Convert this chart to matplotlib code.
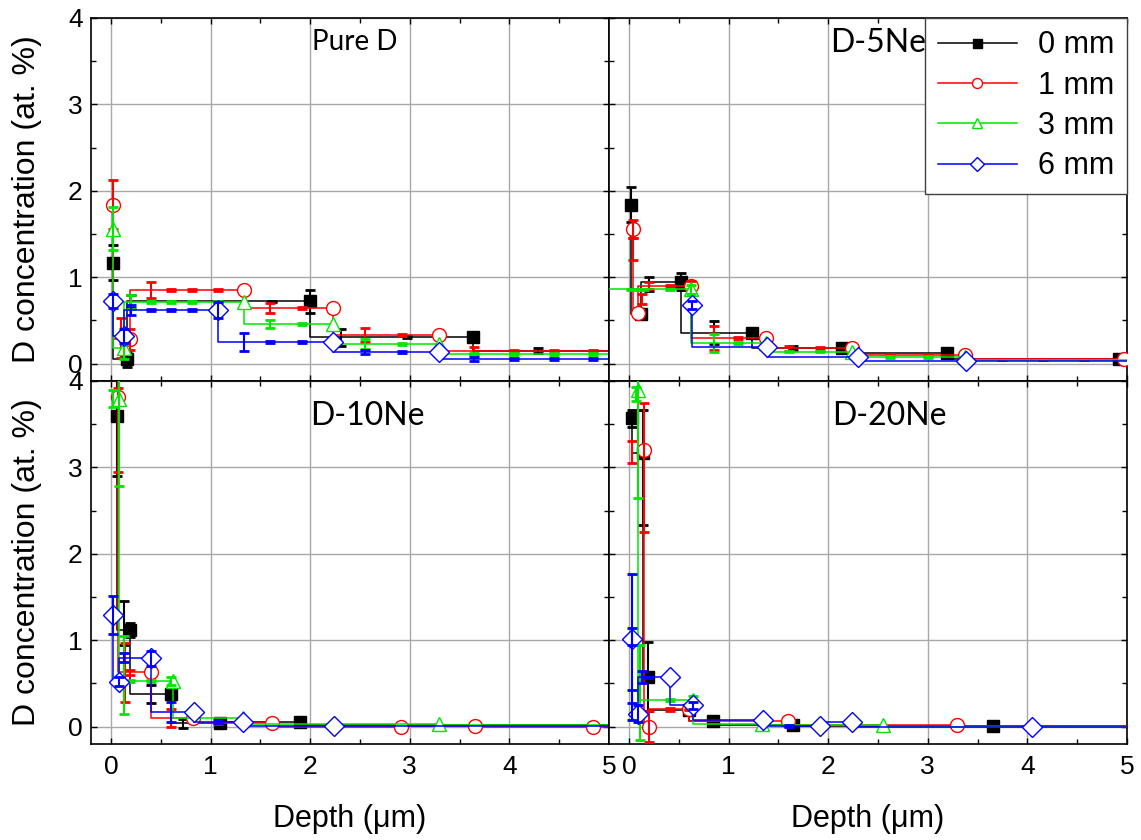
import numpy as np
import matplotlib
matplotlib.use('Agg')
import matplotlib.pyplot as plt
from matplotlib.ticker import MultipleLocator

plt.rcParams['font.family'] = ['Liberation Sans', 'DejaVu Sans']

# series order: 0 mm, 1 mm, 3 mm, 6 mm
labels = ['0 mm', '1 mm', '3 mm', '6 mm']
colors = ['#000000', '#ff0000', '#00e600', '#0000ff']
markers = ['s', 'o', '^', 'D']
titles = ['Pure D', 'D-5Ne', 'D-10Ne', 'D-20Ne']

# ---- Pure D ----
pure_x = [[0.02, 0.16, 2.0, 3.63, 5.3],
          [0.02, 0.19, 1.34, 2.23, 3.29, 5.3],
          [0.02, 0.13, 1.34, 2.23, 3.29, 5.3],
          [0.02, 0.13, 1.07, 2.23, 3.29, 5.3]]
pure_y = [[1.17, 0.05, 0.72, 0.305, 0.15],
          [1.84, 0.28, 0.85, 0.645, 0.33, 0.15],
          [1.56, 0.18, 0.71, 0.46, 0.23, 0.11],
          [0.73, 0.32, 0.62, 0.25, 0.135, 0.055]]
pure_ex = [[0.02, 0.16, 0.2, 1.62, 2.0, 2.31, 2.97, 4.29],
           [0.02, 0.1, 0.19, 0.4, 0.6, 0.81, 1.07, 1.6, 1.92, 2.55, 2.92, 3.64, 4.05, 4.45, 4.84],
           [0.02, 0.13, 0.2, 0.4, 0.6, 0.81, 1.07, 1.6, 1.92, 2.55, 2.92, 3.64, 4.05, 4.45, 4.84],
           [0.02, 0.13, 0.2, 0.4, 0.6, 0.81, 1.07, 1.34, 1.6, 1.92, 2.55, 2.92, 3.64, 4.05, 4.45, 4.84]]
pure_ey = [[1.17, 0.05, 0.72, 0.72, 0.72, 0.305, 0.305, 0.15],
           [1.84, 0.3, 0.28, 0.85, 0.85, 0.85, 0.85, 0.645, 0.645, 0.33, 0.33, 0.15, 0.15, 0.15, 0.15],
           [1.56, 0.18, 0.71, 0.71, 0.71, 0.71, 0.71, 0.46, 0.46, 0.23, 0.23, 0.11, 0.11, 0.11, 0.11],
           [0.73, 0.32, 0.62, 0.62, 0.62, 0.62, 0.62, 0.25, 0.25, 0.25, 0.135, 0.135, 0.055, 0.055, 0.055, 0.055]]
pure_err = [[0.2, 0.09, 0.08, 0.01, 0.13, 0.1, 0.01, 0.03],
            [0.28, 0.23, 0.12, 0.09, 0.01, 0.01, 0.01, 0.06, 0.01, 0.08, 0.01, 0.04, 0.01, 0.01, 0.01],
            [0.25, 0.12, 0.08, 0.01, 0.01, 0.01, 0.01, 0.05, 0.01, 0.06, 0.01, 0.01, 0.01, 0.01, 0.01],
            [0.08, 0.08, 0.06, 0.01, 0.01, 0.01, 0.09, 0.1, 0.01, 0.01, 0.02, 0.01, 0.02, 0.01, 0.01, 0.01]]

# ---- D-5Ne ----
ne5_x = [[0.02, 0.12, 0.52, 1.24, 2.14, 3.19, 4.92],
         [0.04, 0.095, 0.62, 1.38, 2.24, 3.37, 4.97],
         [-0.3, 0.62, 1.38, 2.24, 3.37, 5.3],
         [0.63, 1.39, 2.3, 3.38, 5.3]]
ne5_y = [[1.84, 0.57, 0.95, 0.36, 0.18, 0.12, 0.05],
         [1.56, 0.59, 0.9, 0.3, 0.18, 0.1, 0.05],
         [0.86, 0.86, 0.24, 0.14, 0.08, 0.04],
         [0.68, 0.19, 0.08, 0.035, 0.03]]
ne5_ex = [[0.02, 0.2, 0.52, 0.85, 1.65, 2.14],
          [0.04, 0.04, 0.13, 0.2, 0.41, 0.62, 0.85, 1.1, 1.61, 1.92, 2.62, 3.0, 3.75, 4.16, 4.57],
          [0.02, 0.08, 0.15, 0.41, 0.62, 0.85, 1.1, 1.61, 1.92, 2.62, 3.0],
          [0.63]]
ne5_ey = [[1.84, 0.92, 0.95, 0.36, 0.18, 0.18],
          [1.56, 1.33, 0.75, 0.9, 0.9, 0.9, 0.3, 0.3, 0.18, 0.18, 0.1, 0.1, 0.05, 0.05, 0.05],
          [0.86, 0.86, 0.86, 0.86, 0.86, 0.24, 0.24, 0.14, 0.14, 0.08, 0.08],
          [0.68]]
ne5_err = [[0.2, 0.08, 0.1, 0.13, 0.02, 0.02],
           [0.1, 0.13, 0.06, 0.04, 0.01, 0.06, 0.14, 0.01, 0.03, 0.01, 0.01, 0.01, 0.01, 0.01, 0.01],
           [0.01, 0.01, 0.01, 0.01, 0.05, 0.1, 0.01, 0.01, 0.01, 0.01, 0.01],
           [0.05]]

# ---- D-10Ne ----
ne10_x = [[0.065, 0.19, 0.6, 1.09, 1.9, 5.3],
          [0.075, 0.4, 0.82, 1.62, 2.91, 3.65, 4.84, 5.3],
          [0.085, 0.62, 1.33, 3.29, 5.3],
          [0.025, 0.08, 0.4, 0.83, 1.33, 2.24, 5.3]]
ne10_y = [[3.59, 1.12, 0.38, 0.04, 0.06, 0.02],
          [3.82, 0.63, 0.1, 0.04, 0.0, 0.01, 0.0, 0.0],
          [3.79, 0.53, 0.1, 0.03, 0.02],
          [1.29, 0.52, 0.79, 0.17, 0.06, 0.01, 0.01]]
ne10_ex = [[0.065, 0.135, 0.19, 0.4, 0.72],
           [0.075, 0.075, 0.14, 0.19, 0.6, 1.07],
           [0.085, 0.02, 0.13, 0.19, 0.4, 0.6],
           [0.025, 0.08, 0.13, 0.4, 0.6, 1.07]]
ne10_ey = [[3.59, 1.2, 1.12, 0.38, 0.04],
           [3.82, 3.82, 0.63, 0.63, 0.1, 0.04],
           [3.79, 3.8, 0.6, 0.53, 0.53, 0.53],
           [1.29, 0.52, 0.8, 0.79, 0.17, 0.06]]
ne10_err = [[0.69, 0.26, 0.08, 0.1, 0.05],
            [0.1, 0.87, 0.34, 0.03, 0.1, 0.01],
            [1.0, 0.1, 0.45, 0.01, 0.01, 0.05],
            [0.22, 0.05, 0.05, 0.09, 0.12, 0.02]]

# ---- D-20Ne ----
ne20_x = [[0.03, 0.14, 0.19, 0.6, 0.84, 1.65, 3.66, 5.3],
          [0.15, 0.2, 0.6, 1.6, 3.29, 5.3],
          [0.09, 0.64, 1.34, 2.55, 5.3],
          [0.03, 0.09, 0.41, 0.64, 1.35, 1.92, 2.24, 4.05, 5.3]]
ne20_y = [[3.57, 3.17, 0.58, 0.19, 0.07, 0.02, 0.01, 0.01],
          [3.2, 0.0, 0.2, 0.07, 0.02, 0.01],
          [3.9, 0.31, 0.035, 0.02, 0.0],
          [1.02, 0.15, 0.57, 0.25, 0.08, 0.01, 0.05, 0.0, 0.0]]
ne20_ex = [[0.03, 0.14, 0.19],
           [0.03, 0.15, 0.2, 0.41, 0.6],
           [0.07, 0.09, 0.11, 0.41, 0.64],
           [0.03, 0.03, 0.03, 0.09, 0.13, 0.19, 0.64, 1.61]]
ne20_ey = [[3.57, 3.0, 0.58],
           [3.18, 3.0, 0.0, 0.2, 0.2],
           [3.85, 3.9, 0.4, 0.31, 0.31],
           [1.02, 1.04, 0.25, 0.15, 0.57, 0.57, 0.25, 0.01]]
ne20_err = [[0.1, 0.67, 0.4],
            [0.13, 0.75, 0.18, 0.02, 0.01],
            [0.08, 1.25, 0.55, 0.01, 0.05],
            [0.75, 0.1, 0.17, 0.1, 0.07, 0.01, 0.04, 0.01]]

panels = [(pure_x, pure_y, pure_ex, pure_ey, pure_err),
          (ne5_x, ne5_y, ne5_ex, ne5_ey, ne5_err),
          (ne10_x, ne10_y, ne10_ex, ne10_ey, ne10_err),
          (ne20_x, ne20_y, ne20_ex, ne20_ey, ne20_err)]
title_pos = [(0.51, 0.934, 20), (0.52, 0.93, 23), (0.534, 0.903, 23), (0.542, 0.903, 23)]
msizes = [9, 10, 10, 10]

fig = plt.figure(figsize=(11.41, 8.40), dpi=100)
axs = fig.subplots(2, 2, gridspec_kw=dict(hspace=0, wspace=0))
fig.subplots_adjust(left=0.0798, right=0.9877, top=0.9786, bottom=0.1143)

for k, ax in enumerate(axs.flat):
    xs, ys, exs, eys, errs = panels[k]
    lines = []
    for i in range(4):
        ln, = ax.plot(xs[i], ys[i], drawstyle='steps-pre', color=colors[i], lw=1.1,
                      marker=markers[i], ms=msizes[i],
                      mfc=colors[i] if i == 0 else 'white', mec=colors[i], mew=1.0,
                      label=labels[i], zorder=3 + i)
        ax.errorbar(exs[i], eys[i], yerr=errs[i], fmt='none', ecolor=colors[i],
                    elinewidth=1.5, capsize=3.5, capthick=2.0, zorder=3 + i)
        lines.append(ln)
    ax.set_xlim(-0.2, 5)
    ax.set_ylim(-0.2, 4)
    ax.xaxis.set_major_locator(MultipleLocator(1))
    ax.xaxis.set_minor_locator(MultipleLocator(0.5))
    ax.yaxis.set_major_locator(MultipleLocator(1))
    ax.yaxis.set_minor_locator(MultipleLocator(0.5))
    ax.tick_params(which='both', direction='in', top=True, right=True, width=1.0)
    ax.tick_params(which='major', length=4.5)
    ax.tick_params(which='minor', length=3.5)
    ax.tick_params(axis='x', labelsize=19, pad=8)
    ax.tick_params(axis='y', labelsize=19, pad=6)
    ax.grid(True, which='major', color='#a8a8a8', lw=1.0)
    ax.set_axisbelow(True)
    for sp in ax.spines.values():
        sp.set_linewidth(1.2)
    tx, ty, fs = title_pos[k]
    ax.text(tx, ty, titles[k], transform=ax.transAxes, ha='center', va='center',
            fontsize=fs, family=['Lato', 'DejaVu Sans'], zorder=10)
    if k % 2 == 1:
        ax.tick_params(axis='y', labelleft=False)
    else:
        ax.set_ylabel('D concentration (at. %)', fontsize=23)
        ax.yaxis.set_label_coords(-0.095, 0.5)
    if k < 2:
        ax.tick_params(axis='x', labelbottom=False)
    else:
        ax.set_xlabel('Depth (\u03bcm)', fontsize=22)
        ax.xaxis.set_label_coords(0.5, -0.165)
    if k == 1:
        leg = ax.legend(handles=lines, loc='upper right', borderaxespad=0, fontsize=22,
                        fancybox=False, edgecolor='#404040', framealpha=1,
                        handlelength=2.6, handletextpad=0.7, labelspacing=0.34,
                        borderpad=0.4, markerscale=0.72)
        leg.get_frame().set_linewidth(1.0)
        leg.set_zorder(20)

fig.savefig('out.png', dpi=100)
